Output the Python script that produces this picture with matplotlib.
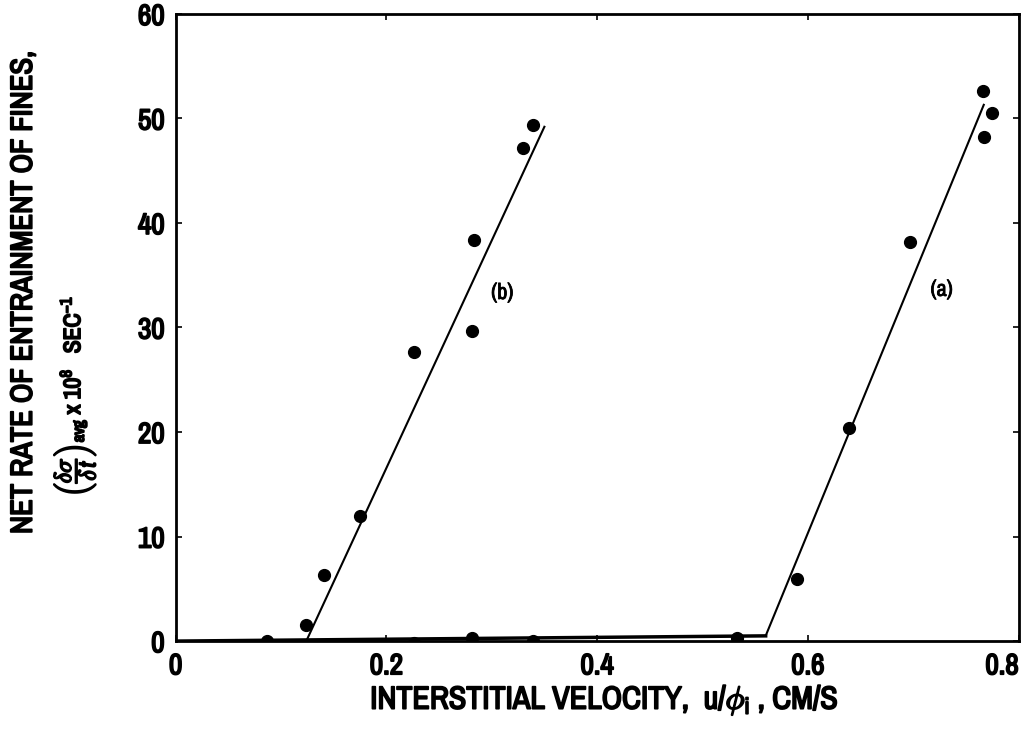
import numpy as np
import matplotlib
matplotlib.use("Agg")
import matplotlib.pyplot as plt
from matplotlib import font_manager
import matplotlib.patheffects as pe

# data
b_x = [0.124, 0.141, 0.175, 0.226, 0.281, 0.283, 0.330, 0.339]
b_y = [1.5, 6.3, 12.0, 27.7, 29.7, 38.4, 47.2, 49.4]
a_x = [0.590, 0.639, 0.697, 0.767, 0.775, 0.766]
a_y = [5.9, 20.4, 38.2, 48.2, 50.5, 52.6]
zero_x = [0.087, 0.226, 0.281, 0.339, 0.533]
zero_y = [0.0, -0.2, 0.3, 0.0, 0.3]

# fitted lines
base_x = [0.0, 0.560]
base_y = [0.0, 0.5]
b_line_x = [0.124, 0.350]
b_line_y = [0.0, 49.2]
a_line_x = [0.560, 0.767]
a_line_y = [0.5, 51.3]

x_ticks = [0, 0.2, 0.4, 0.6, 0.8]
x_labels = ["0", "0.2", "0.4", "0.6", "0.8"]
y_ticks = [0, 10, 20, 30, 40, 50, 60]

# look for a narrow font, the original uses a condensed bold face
narrow = None
for f in font_manager.fontManager.ttflist:
    if 'Narrow' in f.name or 'Condensed' in f.name:
        narrow = f.name
        break
if narrow:
    plt.rcParams['font.family'] = [narrow, 'DejaVu Sans']
    plt.rcParams['mathtext.fontset'] = 'custom'
    plt.rcParams['mathtext.rm'] = narrow
    plt.rcParams['mathtext.it'] = narrow + ':italic'
    plt.rcParams['mathtext.bf'] = narrow + ':bold'
else:
    plt.rcParams['font.family'] = ['DejaVu Sans']
    plt.rcParams['font.stretch'] = 'condensed'
    plt.rcParams['mathtext.fontset'] = 'dejavusans'

# thicken the glyphs, the scan looks heavy
heavy = [pe.withStroke(linewidth=1.3, foreground='black')]

fig = plt.figure(figsize=(10.33, 7.31), dpi=100)
ax = fig.add_axes([0.170, 0.123, 0.816, 0.858])

ax.plot(base_x, base_y, color='black', lw=2.5)
ax.plot(b_line_x, b_line_y, color='black', lw=1.5)
ax.plot(a_line_x, a_line_y, color='black', lw=1.5)

ax.plot(b_x, b_y, 'o', color='black', ms=8.5)
ax.plot(a_x, a_y, 'o', color='black', ms=8.5)
ax.plot(zero_x, zero_y, 'o', color='black', ms=8.5)

ax.text(0.31, 33.3, "(b)", fontsize=16, ha='center', va='center',
        path_effects=[pe.withStroke(linewidth=0.6, foreground='black')])
ax.text(0.727, 33.6, "(a)", fontsize=16, ha='center', va='center',
        path_effects=[pe.withStroke(linewidth=0.6, foreground='black')])

ax.set_xlim(0, 0.8)
ax.set_ylim(0, 60)
ax.set_xticks(x_ticks)
ax.set_xticklabels(x_labels)
ax.set_yticks(y_ticks)
ax.tick_params(direction='in', length=4, width=1.2, labelsize=21,
               top=True, right=True, pad=8)
for lab in ax.get_xticklabels() + ax.get_yticklabels():
    lab.set_path_effects(heavy)
# last x label sits right at the page edge
ax.get_xticklabels()[-1].set_horizontalalignment('right')
for s in ax.spines.values():
    s.set_linewidth(2)

fig.text(0.585, 0.042, r'INTERSTITIAL VELOCITY,  u/$\phi_{\rm i}$ , CM/S',
         fontsize=23, ha='center', va='center', path_effects=heavy)
fig.text(0.022, 0.60, "NET RATE OF ENTRAINMENT OF FINES,",
         fontsize=22, rotation=90, ha='center', va='center', path_effects=heavy)
fig.text(0.072, 0.32,
         r'$\left(\dfrac{\delta\sigma}{\delta\,t}\right)_{\rm avg}$ x 10$^{8}$   SEC$^{-1}$',
         fontsize=17, rotation=90, ha='center', va='bottom', path_effects=heavy)

fig.savefig("out.png", dpi=100)
